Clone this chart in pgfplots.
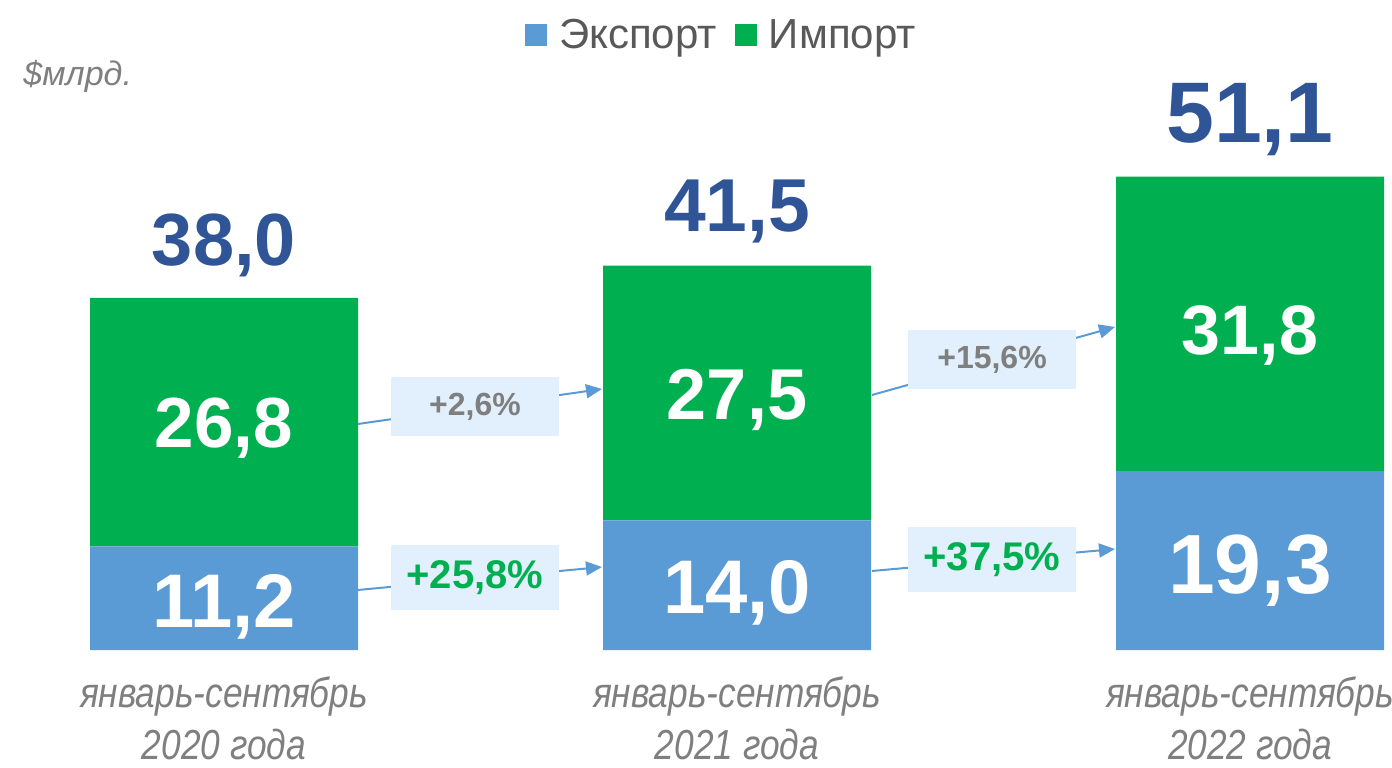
\documentclass[border=0pt]{standalone}
\usepackage{fontspec}
\setmainfont{Liberation Sans}
\newfontfamily\narrowfont[FakeStretch=0.84]{Liberation Sans}
\usepackage{pgfplots}
\pgfplotsset{compat=1.18}
\usetikzlibrary{arrows.meta}
\definecolor{cexp}{HTML}{5B9BD5}
\definecolor{cimp}{HTML}{00B050}
\definecolor{ctot}{HTML}{2F5597}
\definecolor{cgray}{HTML}{7F7F7F}
\definecolor{clegend}{HTML}{595959}
\definecolor{cbox}{HTML}{E2EFFC}
\begin{document}
\begin{tikzpicture}
\begin{axis}[name=ax,
  width=696pt, height=325pt, scale only axis,
  xmin=-0.43665, xmax=2.2768, ymin=0, ymax=70.17,
  ybar stacked, bar width=134pt,
  axis line style={draw=none}, major tick length=0pt,
  ytick=\empty, xtick=data,
  xticklabels={{январь-сентябрь\\2020 года},{январь-сентябрь\\2021 года},{январь-сентябрь\\2022 года}},
  xticklabel style={align=center, font=\fontsize{21}{26}\narrowfont\itshape\selectfont, text=cgray, inner sep=0pt, anchor=north},
  xticklabel shift=13pt,
  clip=false,
  legend columns=2,
  legend style={at={(0.519,0.946)}, anchor=center, draw=none, fill=none,
    font=\fontsize{21}{25}\selectfont, text=clegend,
    /tikz/every even column/.append style={column sep=7pt},
    /tikz/every odd column/.append style={column sep=4pt}},
]
\addplot[fill=cexp, draw=none, legend image code/.code={\fill[cexp] (0pt,-5.5pt) rectangle (11pt,5.5pt);}]
  coordinates {(0,11.2) (1,14.0) (2,19.3)};
\addplot[fill=cimp, draw=none, legend image code/.code={\fill[cimp] (0pt,-5.5pt) rectangle (11pt,5.5pt);}]
  coordinates {(0,26.8) (1,27.5) (2,31.8)};
\legend{Экспорт, Импорт}

\coordinate (unit) at (axis cs:-0.3918,60.9);
\coordinate (a1s) at (axis cs:0.2612,24.40); \coordinate (a1e) at (axis cs:0.7368,28.18);
\coordinate (a2s) at (axis cs:0.2612,6.48);  \coordinate (a2e) at (axis cs:0.7368,8.96);
\coordinate (a3s) at (axis cs:1.2632,27.53); \coordinate (a3e) at (axis cs:1.7368,34.87);
\coordinate (a4s) at (axis cs:1.2632,8.53);  \coordinate (a4e) at (axis cs:1.7368,10.90);
\coordinate (b1) at (axis cs:0.4893,26.29);
\coordinate (b2) at (axis cs:0.4893,7.83);
\coordinate (b3) at (axis cs:1.4971,31.36);
\coordinate (b4) at (axis cs:1.4971,9.77);
\coordinate (t1) at (axis cs:0,41.56);
\coordinate (t2) at (axis cs:1,45.13);
\coordinate (t3) at (axis cs:2,54.84);
\coordinate (i1) at (axis cs:0,21.81);
\coordinate (i2) at (axis cs:1,24.83);
\coordinate (i3) at (axis cs:2,31.85);
\coordinate (e1) at (axis cs:0,2.38);
\coordinate (e2) at (axis cs:1,3.89);
\coordinate (e3) at (axis cs:2,6.15);
\end{axis}

\node[anchor=base west, inner sep=0pt, text=cgray, font=\fontsize{17}{20}\itshape\selectfont] at (unit) {\$млрд.};

\foreach \s/\e in {a1s/a1e, a2s/a2e, a3s/a3e, a4s/a4e}
  \draw[cexp, line width=1pt, -{Triangle[length=8pt,width=7pt]}] (\s) -- (\e);

\node[fill=cbox, minimum width=84pt, minimum height=29.5pt, inner sep=0pt, text=cgray, font=\fontsize{16}{19}\bfseries\selectfont] at (b1) {+2,6\%};
\node[fill=cbox, minimum width=84pt, minimum height=32.5pt, inner sep=0pt, text=cimp, font=\fontsize{20}{24}\bfseries\selectfont] at (b2) {+25,8\%};
\node[fill=cbox, minimum width=84pt, minimum height=29.5pt, inner sep=0pt, text=cgray, font=\fontsize{16}{19}\bfseries\selectfont] at (b3) {+15,6\%};
\node[fill=cbox, minimum width=84pt, minimum height=32.5pt, inner sep=0pt, text=cimp, font=\fontsize{20}{24}\bfseries\selectfont] at (b4) {+37,5\%};

\node[anchor=base, inner sep=0pt, text=ctot, font=\fontsize{37}{40}\bfseries\selectfont] at (t1) {38,0};
\node[anchor=base, inner sep=0pt, text=ctot, font=\fontsize{37.5}{40}\bfseries\selectfont] at (t2) {41,5};
\node[anchor=base, inner sep=0pt, text=ctot, font=\fontsize{43}{46}\bfseries\selectfont] at (t3) {51,1};

\node[anchor=base, inner sep=0pt, text=white, font=\fontsize{35.5}{38}\bfseries\selectfont] at (i1) {26,8};
\node[anchor=base, inner sep=0pt, text=white, font=\fontsize{36}{40}\bfseries\selectfont] at (i2) {27,5};
\node[anchor=base, inner sep=0pt, text=white, font=\fontsize{35}{39}\bfseries\selectfont] at (i3) {31,8};
\node[anchor=base, inner sep=0pt, text=white, font=\fontsize{38}{42}\bfseries\selectfont] at (e1) {11,2};
\node[anchor=base, inner sep=0pt, text=white, font=\fontsize{38}{42}\bfseries\selectfont] at (e2) {14,0};
\node[anchor=base, inner sep=0pt, text=white, font=\fontsize{42}{46}\bfseries\selectfont] at (e3) {19,3};

\pgfresetboundingbox
\path (ax.south west) ++(0pt,-58.5pt) rectangle (ax.north east);
\end{tikzpicture}
\end{document}
